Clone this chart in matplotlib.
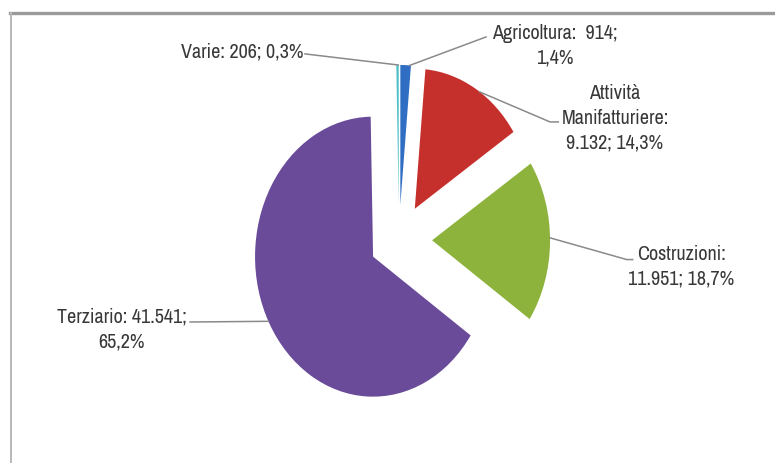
import numpy as np
import matplotlib.pyplot as plt
from matplotlib.lines import Line2D
from matplotlib import font_manager as fm

# imprese per settore
settori = ['Agricoltura', 'Attività\nManifatturiere', 'Costruzioni', 'Terziario', 'Varie']
imprese = [914, 9132, 11951, 41541, 206]
quote = [1.4, 14.3, 18.7, 65.2, 0.3]
etichette = ['Agricoltura:  914;\n1,4%',
             'Attività\nManifatturiere:\n9.132; 14,3%',
             'Costruzioni:\n11.951; 18,7%',
             'Terziario: 41.541;\n65,2%',
             'Varie: 206; 0,3%']
colori = ['#2F6EC2', '#C6302C', '#8DB33C', '#6A4B99', '#4DBFC6']
esplosione = [0.25, 0.26, 0.28, 0.25, 0.25]

# posizione etichette (coord. dati) e punto di attacco sullo spicchio (gradi)
pos_etichette = [(1.32, 1.39), (1.83, 0.87), (2.39, -0.19), (-2.35, -0.64), (-0.81, 1.343)]
allineamento = ['center', 'center', 'center', 'center', 'right']
angolo_attacco = [85.5, 56.5, 1.0, 207.5, 90.3]
fine_linea = [[(0.737, 1.45)],
              [(1.28, 0.843), (1.35, 0.843)],
              [(1.93, -0.14), (1.98, -0.14)],
              [(-1.77, -0.586)],
              [(-0.797, 1.329)]]


def font_stretto():
    # font sans stretto: prima i narrow, poi i condensed, infine Liberation Sans
    normali = [f for f in fm.fontManager.ttflist
               if f.style == 'normal' and f.weight in (400, 'normal', 'regular')]
    for f in normali:
        if 'Narrow' in f.name or 'Narrow' in f.fname:
            return fm.FontProperties(fname=f.fname), 14.5, 1.36
    for f in normali:
        if 'Condensed' in f.fname and 'Sans' in f.fname:
            return fm.FontProperties(fname=f.fname), 12.0, 1.55
    return fm.FontProperties(family='Liberation Sans'), 12.0, 1.55


fig = plt.figure(figsize=(7.75, 4.63), dpi=100)
ax = fig.add_axes([0, 0, 1, 1])

wedges, _ = ax.pie(imprese, colors=colori, explode=esplosione, startangle=90,
                   counterclock=False, radius=1.0)
ax.set_aspect('auto')
ax.set_xlim(-3.381, 3.186)
ax.set_ylim(-1.593, 1.714)
ax.axis('off')

fp, dim, interlinea = font_stretto()
fp.set_size(dim)
for w, testo, (tx, ty), ha, ang, fine in zip(wedges, etichette, pos_etichette,
                                              allineamento, angolo_attacco, fine_linea):
    cx, cy = w.center
    a = np.deg2rad(ang)
    xs = [cx + w.r * np.cos(a)] + [p[0] for p in fine]
    ys = [cy + w.r * np.sin(a)] + [p[1] for p in fine]
    ax.add_line(Line2D(xs, ys, color='#8a8a8a', lw=1.1))
    ax.text(tx, ty, testo, ha=ha, va='center', multialignment='center',
            fontproperties=fp, color='#383838', linespacing=interlinea)

# cornice del grafico
fig.add_artist(Line2D([10 / 775, 1], [1 - 13 / 463, 1 - 13 / 463],
                      transform=fig.transFigure, color='#9a9a9a', lw=2.4))
fig.add_artist(Line2D([11 / 775, 11 / 775], [0, 1 - 13 / 463],
                      transform=fig.transFigure, color='#b8b8b8', lw=1.4))

fig.savefig('out.png', dpi=100, facecolor='white')
